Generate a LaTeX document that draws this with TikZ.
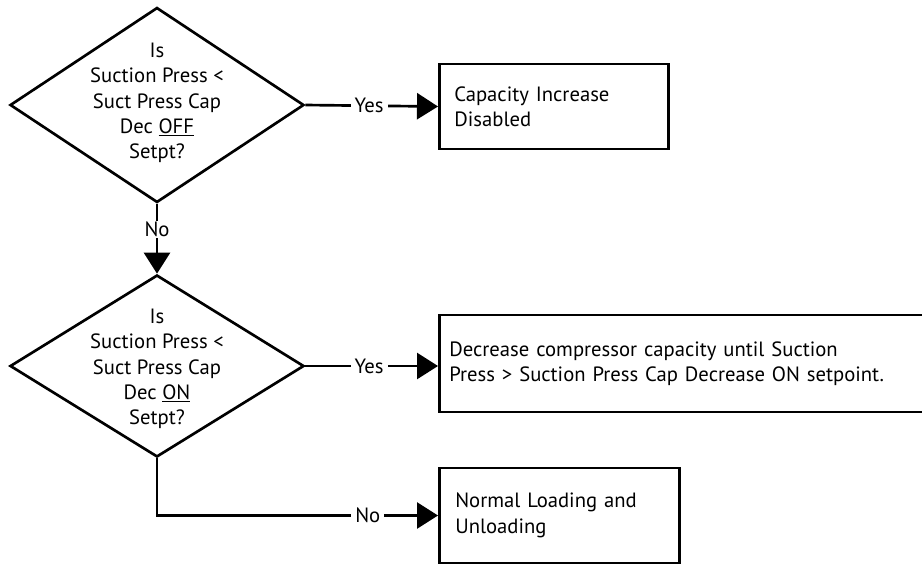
\documentclass[tikz,border=0pt]{standalone}
\usepackage{fontspec}
\setmainfont{PT Sans}
\usetikzlibrary{shapes.geometric, arrows.meta, positioning}

\begin{document}
\begin{tikzpicture}[
            x=0.75pt, y=-0.75pt,
            line width=2pt,
            every node/.style={font=\fontsize{15.5}{19}\selectfont},
            decision/.style={diamond, draw, inner sep=0pt, minimum width=220.5pt},
            action/.style={rectangle, draw, anchor=west, align=left},
            flow/.style={-{Triangle[length=15.75pt, width=19.5pt]}},
            lbl/.style={fill=white, inner xsep=3pt, inner ysep=1pt},
        ]
            \useasboundingbox (0,0) rectangle (922,565);

            % decisions
            \node[decision, minimum height=146.25pt] (dec1) at (157,105) {};
            \node[align=center] (dec1txt) at (157,103) {Is\\Suction Press <\\Suct Press Cap\\Dec \underline{OFF}\\Setpt?};
            \node[decision, minimum height=136.5pt] (dec2) at (157,366) {};
            \node[align=center] (dec2txt) at (157,369) {Is\\Suction Press <\\Suct Press Cap\\Dec \underline{ON}\\Setpt?};

            % actions
            \node[action, minimum height=63.75pt, inner xsep=11.25pt, text width=149.25pt] (incoff) at (438,106.5) {Capacity Increase\\Disabled};
            \node[action, minimum height=72.75pt, inner xsep=7.5pt, text width=360pt] (decon) at (438,363.5) {Decrease compressor capacity until Suction\\Press > Suction Press Cap Decrease ON setpoint.};
            \node[action, minimum height=71.25pt, inner xsep=12pt, text width=156pt] (normal) at (438,515.5) {Normal Loading and\\Unloading};

            % connectors
            \draw[flow] (dec1.east) -- node[lbl, pos=0.48] {Yes} (incoff.west);
            \draw[flow] (dec1.south) -- node[lbl, pos=0.37] {No} (dec2.north);
            \draw[flow] (dec2.east) -- node[lbl, pos=0.48] {Yes} (dec2.east -| decon.west);
            \draw[flow] (dec2.south) |- node[lbl, pos=0.875] {No} (normal.west);
        \end{tikzpicture}
\end{document}
